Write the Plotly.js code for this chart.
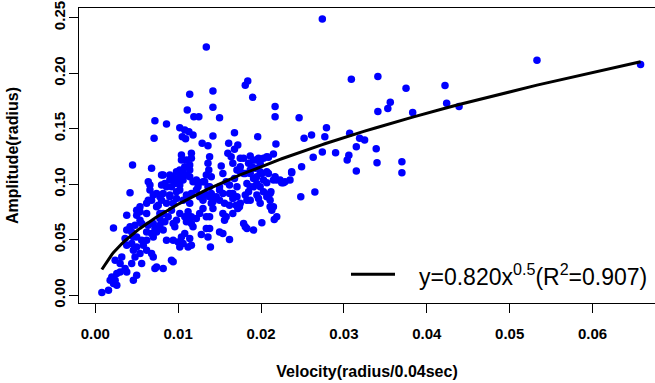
<!DOCTYPE html>
<html>
<head>
<meta charset="utf-8">
<script src="https://cdn.plot.ly/plotly-3.0.1.min.js"></script>
<style>
html,body{margin:0;padding:0;background:#fff;overflow:hidden;}
#chart{width:655px;height:383px;}
</style>
</head>
<body>
<div id="chart"></div>
<script>
// ---- data ----
const velocity = [
  // upper right / sparse region
  0.0274,0.0309,0.0341,0.0375,0.0422,0.0533,0.0658,0.0356,0.0353,0.0341,
  0.0383,0.0424,0.0439,0.0279,0.0277,0.0307,0.0319,0.0325,0.0315,0.0339,
  0.0274,0.0290,0.0306,0.0304,0.0340,0.0370,0.0315,0.0370,
  // middle right
  0.0248,0.0265,0.0237,0.0235,0.0225,0.0212,0.0211,0.0213,0.0219,0.0216,
  0.0201,0.0191,0.0197,0.0199,
  // upper main cloud
  0.0134,0.0184,0.0181,0.0190,0.0142,0.0114,0.0111,0.0142,0.0119,0.0125,
  0.0150,0.0217,0.0217,0.0246,0.0072,0.0086,0.0071,0.0102,0.0108,0.0113,
  0.0118,0.0105,0.0109,0.0142,0.0129,0.0136,0.0168,0.0196,0.0161,0.0172,
  0.0168,0.0218,0.0252,0.0261,0.0263,0.0249,0.0237,0.0227,0.0215,0.0219,
  0.0207,0.0195,0.0201,0.0207,0.0215,0.0191,0.0197,0.0203,0.0207,0.0187,
  0.0185,0.0189,0.0175,0.0179,0.0160,0.0164,0.0166,0.0171,0.0175,0.0179,
  0.0187,0.0191,0.0195,0.0191,0.0183,0.0185,0.0199,0.0203,0.0211,0.0168,
  0.0162,0.0166,0.0171,0.0152,0.0154,0.0158,0.0150,0.0154,0.0146,0.0138,
  0.0136,0.0137,0.0134,0.0140,0.0132,0.0138,0.0132,0.0138,0.0122,0.0125,
  0.0122,0.0126,0.0104,0.0110,0.0116,0.0114,0.0108,0.0114,0.0098,0.0104,
  0.0100,0.0094,0.0090,0.0096,0.0102,0.0092,0.0086,0.0080,0.0078,0.0070,
  0.0066,0.0064,0.0082,0.0068,0.0045,0.0042,
  // lower main cloud
  0.0022,0.0038,0.0050,0.0054,0.0062,0.0064,0.0062,0.0068,0.0074,0.0082,
  0.0080,0.0076,0.0086,0.0090,0.0094,0.0092,0.0088,0.0082,0.0078,0.0084,
  0.0078,0.0082,0.0074,0.0094,0.0098,0.0096,0.0102,0.0108,0.0112,0.0116,
  0.0110,0.0116,0.0122,0.0126,0.0130,0.0134,0.0138,0.0142,0.0140,0.0086,
  0.0094,0.0100,0.0104,0.0106,0.0102,0.0112,0.0116,0.0108,0.0118,0.0128,
  0.0136,0.0139,0.0150,0.0154,0.0162,0.0134,0.0158,0.0166,0.0170,0.0162,
  0.0150,0.0166,0.0174,0.0179,0.0183,0.0211,0.0195,
  // bottom left
  0.0008,0.0016,0.0020,0.0024,0.0026,0.0022,0.0018,0.0026,0.0030,0.0024,
  0.0030,0.0036,0.0038,0.0046,0.0050,0.0044,0.0048,0.0054,0.0056,0.0046,
  0.0044,0.0050,0.0058,0.0062,0.0068,0.0070,0.0074,0.0082,0.0094,0.0092,
  0.0056,0.0062,0.0070,0.0074,0.0064,0.0056,0.0038,0.0042,0.0048,0.0050,
  0.0038,0.0032,0.0062,0.0072,
  // extra points inside the dense cloud
  0.0172,0.0175,0.0183,0.0154,0.0156,0.0138,0.0114,0.0181,0.0116,0.0104,
  0.0102,0.0106,0.0114,0.0124,0.0066,0.0102,0.0110,0.0098,0.0116,0.0130,
  0.0054,0.0092,0.0187,0.0193,0.0199,0.0209,0.0217,0.0223,0.0175,0.0181,
  0.0203,0.0187,0.0229,0.0162,0.0171,0.0181,0.0156,0.0187,0.0207,0.0215,
  0.0142,0.0130,0.0114,0.0106,0.0098,0.0090,0.0080,0.0084,0.0090,0.0106,
  0.0110,0.0118,0.0130,0.0136,0.0140,0.0150,0.0195,0.0209,0.0199,0.0052,
  0.0050,0.0054,0.0044,0.0036,0.0046,0.0070,0.0072,0.0068,0.0078,0.0074
];
const amplitude = [
  // upper right / sparse region
  0.2488,0.1947,0.1970,0.1865,0.1889,0.2118,0.2079,0.1739,0.1682,0.1655,
  0.1646,0.1730,0.1700,0.1510,0.1429,0.1459,0.1414,0.1399,0.1338,0.1320,
  0.1291,0.1284,0.1261,0.1218,0.1194,0.1203,0.1119,0.1104,
  // middle right
  0.0887,0.0930,0.1104,0.1038,0.1014,0.0932,0.0857,0.0767,0.0707,0.0683,
  0.0653,0.0587,0.0873,0.0828,
  // upper main cloud
  0.2236,0.1931,0.1893,0.1784,0.1841,0.1811,0.1670,0.1694,0.1609,0.1609,
  0.1600,0.1700,0.1609,0.1600,0.1573,0.1543,0.1414,0.1510,0.1489,0.1474,
  0.1444,0.1429,0.1411,0.1435,0.1369,0.1347,0.1465,0.1429,0.1369,0.1354,
  0.1315,0.1363,0.1414,0.1444,0.1243,0.1158,0.1113,0.1014,0.1038,0.1038,
  0.1014,0.1068,0.1098,0.1113,0.1273,0.1218,0.1234,0.1234,0.1248,0.1255,
  0.1189,0.1158,0.1234,0.1234,0.1279,0.1248,0.1189,0.1128,0.1158,0.1098,
  0.1098,0.1053,0.1008,0.0977,0.1008,0.0932,0.0977,0.0932,0.0918,0.1053,
  0.0993,0.0918,0.0977,0.1164,0.1098,0.1023,0.0977,0.0918,0.0887,0.1248,
  0.1189,0.1128,0.1083,0.1068,0.1023,0.0977,0.0918,0.0887,0.1038,0.1014,
  0.0948,0.0887,0.1264,0.1218,0.1234,0.1173,0.1158,0.1128,0.1113,0.1098,
  0.1053,0.1068,0.1038,0.1008,0.0993,0.0977,0.0977,0.0993,0.0887,0.0903,
  0.0993,0.1023,0.1083,0.1144,0.1173,0.0923,
  // lower main cloud
  0.0607,0.0722,0.0767,0.0752,0.0737,0.0857,0.0828,0.0857,0.0918,0.0918,
  0.0857,0.0812,0.0828,0.0903,0.0828,0.0767,0.0707,0.0737,0.0692,0.0662,
  0.0632,0.0587,0.0587,0.0647,0.0677,0.0617,0.0737,0.0707,0.0752,0.0707,
  0.0662,0.0647,0.0692,0.0737,0.0782,0.0707,0.0707,0.0782,0.0828,0.0496,
  0.0496,0.0481,0.0526,0.0467,0.0436,0.0436,0.0451,0.0557,0.0617,0.0548,
  0.0526,0.0436,0.0571,0.0557,0.0503,0.0602,0.0707,0.0737,0.0812,0.0812,
  0.0857,0.0873,0.0797,0.0647,0.0602,0.0797,0.0903,
  // bottom left
  0.0024,0.0045,0.0165,0.0135,0.0090,0.0106,0.0135,0.0196,0.0210,0.0316,
  0.0286,0.0241,0.0210,0.0135,0.0181,0.0286,0.0346,0.0376,0.0286,0.0406,
  0.0467,0.0436,0.0451,0.0406,0.0376,0.0346,0.0255,0.0241,0.0301,0.0316,
  0.0496,0.0496,0.0526,0.0571,0.0632,0.0647,0.0587,0.0617,0.0632,0.0526,
  0.0451,0.0346,0.0571,0.0241,
  // extra points inside the dense cloud
  0.0782,0.0828,0.0857,0.0737,0.0677,0.0602,0.0512,0.0617,0.1279,0.1218,
  0.1128,0.1038,0.1068,0.0977,0.0948,0.0948,0.0903,0.0873,0.0918,0.0857,
  0.0797,0.1068,0.1128,0.1144,0.1113,0.1098,0.1068,0.1038,0.1113,0.1098,
  0.1038,0.0977,0.1023,0.0918,0.0887,0.0903,0.0828,0.0857,0.0887,0.0797,
  0.0842,0.0873,0.0828,0.0857,0.0932,0.0887,0.1083,0.1008,0.1083,0.1128,
  0.1083,0.1023,0.1023,0.0977,0.0918,0.0948,0.1218,0.1243,0.1189,0.0767,
  0.0722,0.0677,0.0571,0.0512,0.0526,0.0647,0.0602,0.0557,0.0737,0.0797
];
// fitted model shown in the legend: y = a * x^b
const fitCoef = 0.820;
const fitExp = 0.5;
const fitLabel = 'y=0.820x<sup>0.5</sup>(R<sup>2</sup>=0.907)';
const xTickVals = [0, 0.01, 0.02, 0.03, 0.04, 0.05, 0.06];
const xTickText = ['0.00','0.01','0.02','0.03','0.04','0.05','0.06'];
const yTickVals = [0, 0.05, 0.10, 0.15, 0.20, 0.25];
const yTickText = ['0.00','0.05','0.10','0.15','0.20','0.25'];

// fitted curve evaluated at the sorted observed velocities
const fitX = velocity.slice().sort((a, b) => a - b);
const fitY = fitX.map(v => fitCoef * Math.pow(v, fitExp));

const FONT = 'Liberation Sans, Arial, Helvetica, sans-serif';

const traces = [
  {
    type: 'scatter', mode: 'markers', x: velocity, y: amplitude,
    marker: {color: '#0000FF', size: 7.5, line: {width: 0}},
    name: 'data', hoverinfo: 'x+y'
  },
  {
    type: 'scatter', mode: 'lines', x: fitX, y: fitY,
    line: {color: '#000000', width: 3},
    name: fitLabel
  }
];

const layout = {
  width: 655, height: 383,
  margin: {l: 79, r: 0, t: 8, b: 80, pad: 0},
  paper_bgcolor: '#ffffff', plot_bgcolor: '#ffffff',
  showlegend: false,
  font: {family: FONT, color: '#000000'},
  xaxis: {
    range: [-0.00196, 0.06754],
    tickmode: 'array', tickvals: xTickVals, ticktext: xTickText,
    ticks: 'outside', ticklen: 9, tickwidth: 1, tickcolor: '#000',
    showline: true, linecolor: '#000', linewidth: 1, mirror: true,
    showgrid: false, zeroline: false,
    tickfont: {family: FONT, size: 15, weight: 'bold', color: '#000'},
    ticklabelstandoff: 8,
    title: {text: 'Velocity(radius/0.04sec)', font: {family: FONT, size: 16, weight: 'bold', color: '#000'}, standoff: 24},
    automargin: false
  },
  yaxis: {
    range: [-0.00695, 0.2588],
    tickmode: 'array', tickvals: yTickVals, ticktext: yTickText,
    ticks: 'outside', ticklen: 9, tickwidth: 1, tickcolor: '#000',
    showline: true, linecolor: '#000', linewidth: 1,
    showgrid: false, zeroline: false,
    tickangle: -90,
    tickfont: {family: FONT, size: 15, weight: 'bold', color: '#000'},
    ticklabelstandoff: -2,
    title: {text: 'Amplitude(radius)', font: {family: FONT, size: 16, weight: 'bold', color: '#000'}, standoff: 28},
    automargin: false
  },
  shapes: [
    {type: 'line', xref: 'paper', yref: 'paper', x0: 0.4722, x1: 0.5486, y0: 0.0973, y1: 0.0973,
     line: {color: '#000', width: 3}}
  ],
  annotations: [
    {xref: 'paper', yref: 'paper', x: 0.5863, y: 0.0950, xanchor: 'left', yanchor: 'middle',
     text: fitLabel, showarrow: false, font: {family: FONT, size: 23, color: '#000'}}
  ]
};

Plotly.newPlot('chart', traces, layout, {displayModeBar: false, staticPlot: true});
</script>
</body>
</html>
